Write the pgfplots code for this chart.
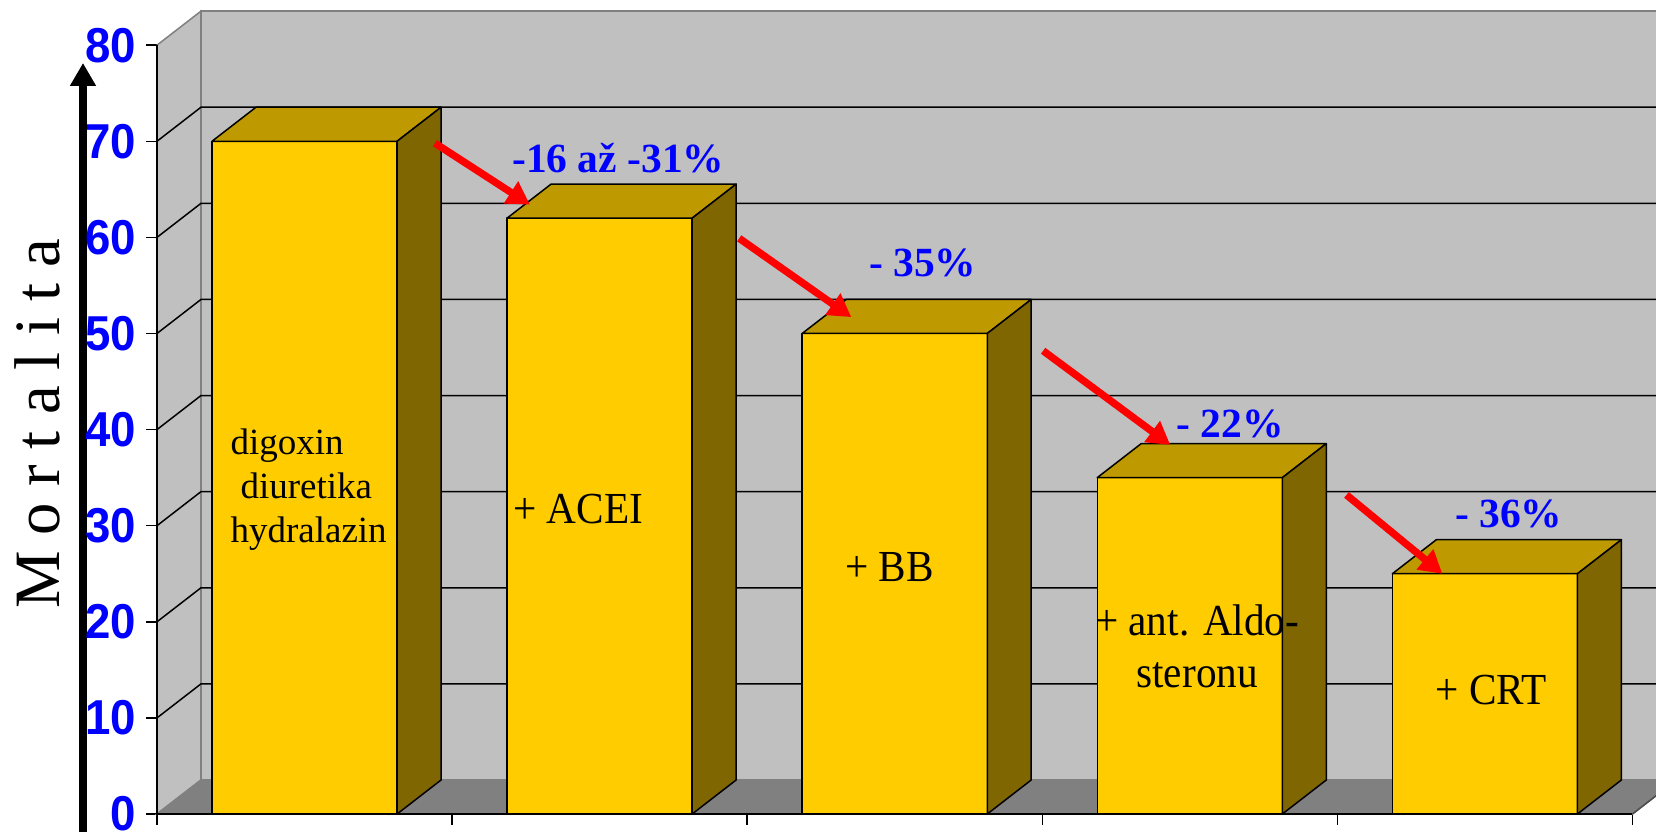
\documentclass[border=0pt]{standalone}
\usepackage{pgfplots}
\pgfplotsset{compat=1.18}
\usepackage{pgfplotstable}
\usetikzlibrary{arrows.meta}
\usepackage{fontspec}
\setmainfont{Liberation Serif}
\newfontfamily\arialfont{Liberation Sans}

\definecolor{barfront}{HTML}{FFCC00}
\definecolor{bartop}{HTML}{BF9900}
\definecolor{barside}{HTML}{806600}
\definecolor{wall}{HTML}{C0C0C0}
\definecolor{floorgray}{HTML}{808080}

% mortality per treatment step
\pgfplotstableread{
pos val
0 70
1 62
2 50
3 35
4 25
}\mortdata

% depth of the 3-D box and half width of a column, in data units
\pgfmathsetmacro\depx{0.149}
\pgfmathsetmacro\depy{3.54}
\pgfmathsetmacro\hw{0.3136}
\pgfmathsetmacro\xbr{5+\depx}
\pgfmathsetmacro\ybt{80+\depy}

\tikzset{barface/.style={draw=black, line width=0.45pt, line join=round}}

\begin{document}
\begin{tikzpicture}
% vertical arrow beside the value axis
\draw[line width=2.6pt, -{Triangle[length=6.9pt,width=7.4pt]}] (-22.2pt,-8pt) -- (-22.2pt,225.3pt);
% axis title
\node[rotate=90, anchor=base, inner sep=0pt, font=\fontsize{19.4}{19.4}\selectfont]
  at (-29.4pt,117pt) {M o r t a l i t a};

\begin{axis}[
  name=ax,
  scale only axis, width=449.7pt, height=244.2pt,
  xmin=0, xmax=5.08, ymin=0, ymax=84.7,
  clip=false,
  axis x line*=bottom, axis y line*=left,
  axis line style={draw=none},
  tick align=outside, major tick length=3.2pt,
  tick style={black, line width=0.45pt},
  xtick={0,...,5}, xticklabels={},
  ytick={0,10,...,80},
  yticklabel style={font=\arialfont\bfseries\fontsize{14.7}{14.7}\selectfont,
    text=blue, inner sep=0pt, xshift=-2.8pt,
    /pgf/number format/assume math mode=true},
  yticklabel={\scalebox{0.93}[1]{\pgfmathprintnumber{\tick}}},
]
% back wall, side wall and floor
\edef\tmp{%
  \noexpand\addplot[fill=wall, draw=none] coordinates {(\depx,\depy) (\xbr,\depy) (\xbr,\ybt) (\depx,\ybt)} -- cycle;
  \noexpand\addplot[fill=wall, draw=floorgray, line width=0.45pt] coordinates {(0,0) (\depx,\depy) (\depx,\ybt) (0,80)} -- cycle;
  \noexpand\addplot[fill=floorgray, draw=floorgray, line width=0.45pt] coordinates {(0,0) (5,0) (\xbr,\depy) (\depx,\depy)} -- cycle;
  \noexpand\addplot[draw=floorgray, line width=0.45pt] coordinates {(\depx,\depy) (\depx,\ybt) (\xbr,\ybt)};
  \noexpand\addplot[draw=black!70, line width=0.45pt] coordinates {(5,0) (\xbr,\depy)};
}\tmp
% grid lines on the walls
\pgfplotsinvokeforeach{10,20,...,70}{
  \pgfmathsetmacro\yb{#1+\depy}
  \edef\tmp{\noexpand\addplot[black, line width=0.45pt] coordinates {(0,#1) (\depx,\yb) (\xbr,\yb)};}
  \tmp
}
% front axis lines
\addplot[black, line width=0.45pt] coordinates {(0,80) (0,0) (5,0)};

% columns: front, top and side faces
\pgfplotsinvokeforeach{0,...,4}{
  \pgfplotstablegetelem{#1}{val}\of\mortdata
  \let\mval\pgfplotsretval
  \pgfmathsetmacro\xl{#1+0.5-\hw}
  \pgfmathsetmacro\xr{#1+0.5+\hw}
  \pgfmathsetmacro\xlb{\xl+\depx}
  \pgfmathsetmacro\xrb{\xr+\depx}
  \pgfmathsetmacro\vb{\mval+\depy}
  \edef\tmp{%
    \noexpand\addplot[barface, fill=barfront] coordinates {(\xl,0) (\xr,0) (\xr,\mval) (\xl,\mval)} -- cycle;
    \noexpand\addplot[barface, fill=bartop] coordinates {(\xl,\mval) (\xr,\mval) (\xrb,\vb) (\xlb,\vb)} -- cycle;
    \noexpand\addplot[barface, fill=barside] coordinates {(\xr,0) (\xrb,\depy) (\xrb,\vb) (\xr,\mval)} -- cycle;
  }\tmp
}

% treatment names
\begin{scope}[every node/.style={inner sep=0pt, font=\fontsize{13.3}{13.2}\selectfont}]
\node[anchor=base west, font=\fontsize{11.1}{13.2}\selectfont] at (axis cs:0.247,37.4)
  {\begin{tabular}[t]{@{}l@{}}digoxin\\\hspace{3pt}diuretika\\hydralazin\end{tabular}};
\node[anchor=base] at (axis cs:1.427,30.2) {\scalebox{0.93}[1]{+ ACEI}};
\node[anchor=base] at (axis cs:2.483,24.2) {\scalebox{0.93}[1]{+ BB}};
\node[anchor=base, font=\fontsize{13.3}{15.6}\selectfont] at (axis cs:3.525,18.6)
  {\scalebox{0.93}[1]{\begin{tabular}[t]{@{}c@{}}+ ant. Aldo-\\steronu\end{tabular}}};
\node[anchor=base] at (axis cs:4.522,11.4) {\scalebox{0.93}[1]{+ CRT}};
\end{scope}

% reductions between the steps
\begin{scope}[every node/.style={inner sep=0pt, anchor=base, text=blue,
    font=\bfseries\fontsize{12.45}{12.45}\selectfont}]
\node at (axis cs:1.563,66.7) {-16 až -31\%};
\node at (axis cs:2.595,55.9) {- 35\%};
\node at (axis cs:3.637,39.2) {- 22\%};
\node at (axis cs:4.581,29.8) {- 36\%};
\end{scope}

\begin{scope}[red, line width=2.2pt, -{Triangle[length=6.8pt,width=7.5pt]}]
\draw (axis cs:0.942,69.8) -- (axis cs:1.264,63.4);
\draw (axis cs:1.973,59.9) -- (axis cs:2.353,51.7);
\draw (axis cs:3.003,48.2) -- (axis cs:3.434,38.4);
\draw (axis cs:4.031,33.2) -- (axis cs:4.356,25.0);
\end{scope}
\end{axis}
\pgfresetboundingbox
\path[use as bounding box] (-47.1pt,-5.1pt) rectangle (449.7pt,244.2pt);
\end{tikzpicture}
\end{document}
